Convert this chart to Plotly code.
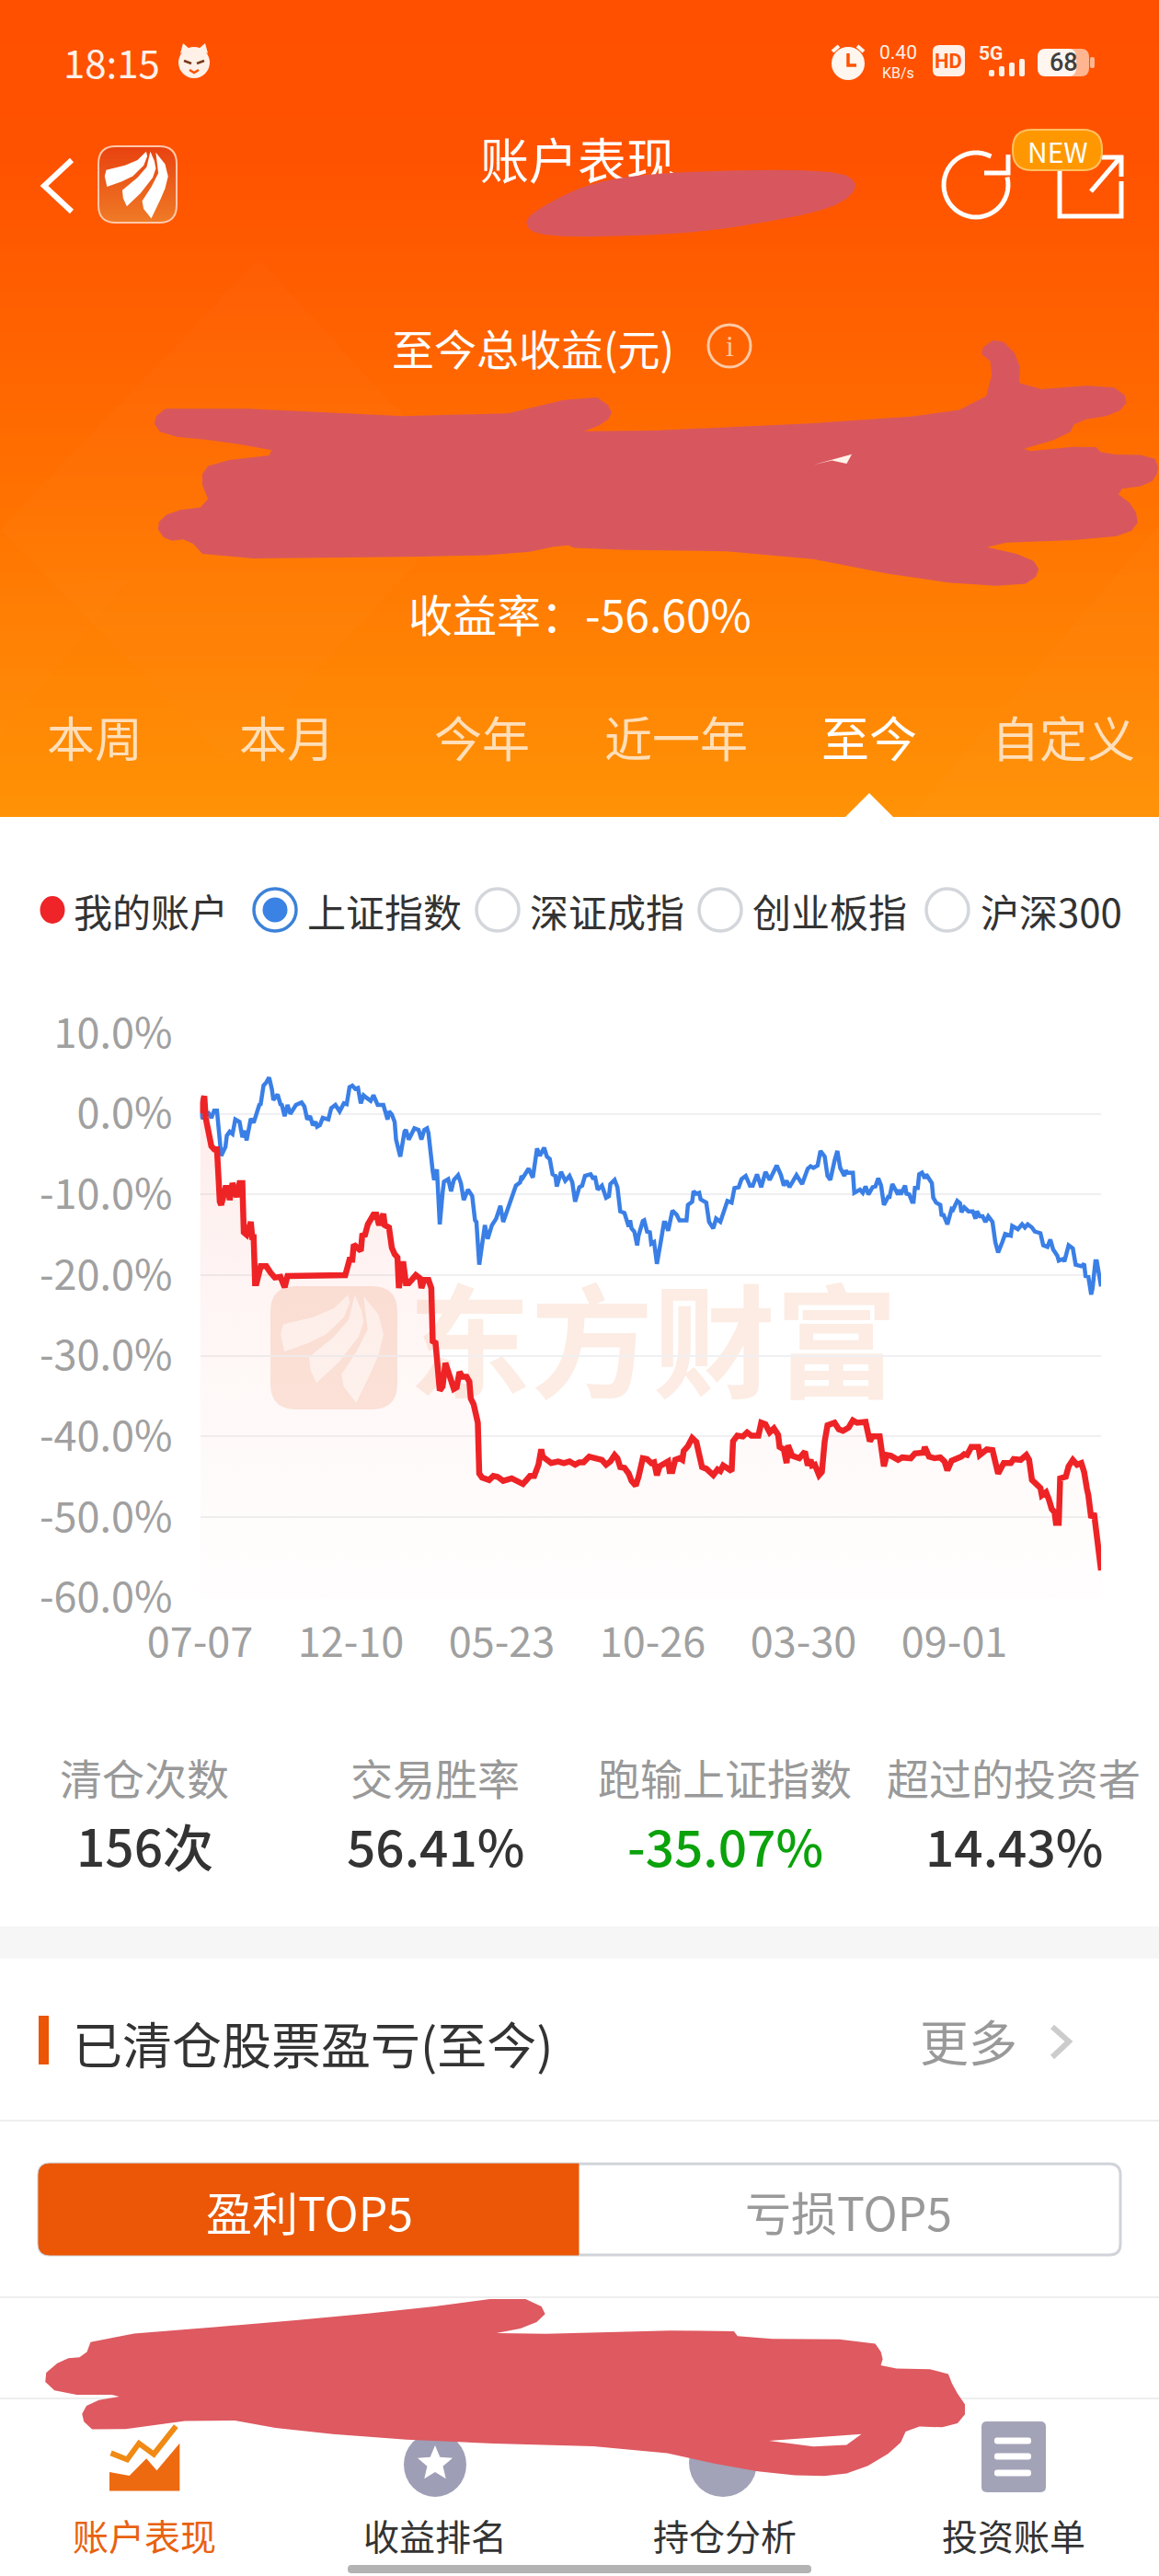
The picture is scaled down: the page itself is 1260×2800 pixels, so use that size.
import math
import plotly.graph_objects as go

# ---------- chart data (trading-day index, % return) ----------
tick_labels = ["07-07", "12-10", "05-23", "10-26", "03-30", "09-01"]
tick_days = [0, 107, 214, 321, 428, 535]
y_ticks = [10, 0, -10, -20, -30, -40, -50, -60]
y_labels = ["10.0%", "0.0%", "-10.0%", "-20.0%", "-30.0%", "-40.0%", "-50.0%", "-60.0%"]

blue_days = [0,2,4,6,8,10,12,15,18,19,21,23,25,28,30,32,33,36,38,40,42,43,45,47,49,51,52,55,57,58,60,62,64,68,72,74,76,78,80,82,83,85,87,91,93,96,99,102,104,106,108,110,112,114,116,118,121,123,126,130,133,134,136,138,139,142,145,146,148,152,155,157,159,161,162,165,166,168,170,172,173,176,178,180,183,185,187,190,193,195,196,198,200,202,204,207,210,213,215,218,221,222,224,227,228,229,232,233,236,239,241,244,246,248,250,252,253,256,259,262,264,266,269,271,273,277,279,280,282,285,288,290,291,294,296,298,301,304,305,306,308,310,311,314,315,317,319,320,322,324,327,329,330,332,335,338,340,345,346,349,350,352,354,355,359,361,364,366,369,371,374,377,379,382,384,387,390,392,395,398,401,404,408,409,412,414,416,418,423,427,431,433,435,438,440,443,445,447,450,452,454,457,458,459,463,464,468,470,472,474,477,479,481,483,485,488,489,491,495,496,497,500,501,503,505,506,507,509,510,512,514,515,519,520,522,525,526,527,530,533,534,537,539,540,542,545,548,550,551,553,555,557,559,562,564,566,569,571,575,576,580,583,585,587,590,592,596,598,601,603,605,608,609,612,613,616,619,621,625,627,628,630,632,633,635,636,639]
blue_vals = [0.1,-0.6,0.0,0.1,-0.5,0.4,0.4,-5.2,-4.1,-2.7,-2.2,-2.5,-0.7,-1.0,-2.9,-2.1,-3.3,-0.6,-1.1,0.1,1.1,1.2,3.5,3.9,4.5,3.0,1.7,2.4,1.2,1.1,-0.3,1.1,0.0,1.1,1.4,0.9,-0.7,-0.3,-1.4,-1.0,-1.6,-1.4,-0.5,-0.7,0.7,1.1,0.3,1.3,1.2,3.3,3.5,3.1,3.2,1.3,2.3,2.0,1.6,2.3,1.1,1.1,-0.7,0.3,-0.1,-1.0,-3.2,-5.3,-2.2,-2.0,-3.2,-1.8,-2.0,-3.2,-2.0,-1.8,-2.4,-7.1,-8.2,-6.9,-13.7,-9.8,-8.4,-8.1,-9.6,-8.2,-7.6,-8.6,-10.7,-9.4,-10.2,-13.2,-13.4,-18.7,-16.4,-13.8,-15.5,-13.8,-13.0,-11.4,-13.4,-11.9,-10.4,-10.2,-8.9,-8.5,-7.7,-7.9,-7.0,-6.8,-7.9,-4.3,-5.2,-4.2,-5.3,-5.6,-7.5,-7.7,-9.0,-7.2,-8.3,-7.7,-8.5,-10.9,-9.1,-8.9,-7.7,-7.5,-8.1,-7.7,-9.4,-8.9,-10.4,-10.2,-8.7,-8.2,-9.1,-12.1,-12.3,-14.0,-13.2,-14.2,-14.6,-16.3,-15.1,-13.3,-13.2,-14.6,-14.7,-16.1,-15.9,-18.6,-15.6,-13.5,-13.5,-14.5,-12.0,-12.5,-13.2,-13.2,-11.3,-10.9,-9.6,-9.9,-9.8,-10.6,-11.0,-13.4,-14.2,-13.0,-13.4,-12.3,-10.8,-11.0,-9.2,-9.1,-8.1,-7.7,-8.9,-8.9,-7.5,-9.1,-7.2,-8.2,-6.5,-6.4,-7.6,-8.9,-8.3,-9.1,-7.6,-8.7,-6.8,-6.5,-6.7,-6.4,-4.6,-5.3,-7.7,-8.2,-5.8,-4.6,-6.7,-7.7,-7.0,-7.3,-7.3,-9.8,-9.4,-9.8,-9.0,-10.0,-9.1,-9.0,-8.0,-8.9,-11.3,-10.3,-10.3,-8.7,-10.0,-9.4,-10.0,-8.9,-9.9,-10.0,-10.9,-10.9,-9.2,-9.2,-7.5,-7.3,-8.0,-7.5,-8.6,-10.4,-11.0,-11.3,-12.7,-12.4,-13.7,-11.8,-11.9,-10.8,-11.1,-12.2,-11.6,-12.1,-12.1,-13.0,-12.1,-12.7,-12.7,-13.4,-12.7,-13.4,-15.9,-17.2,-15.9,-14.9,-15.1,-13.9,-14.3,-13.7,-14.1,-13.7,-14.1,-14.6,-14.8,-16.3,-16.5,-15.6,-16.8,-17.6,-18.2,-18.0,-18.3,-16.3,-16.7,-18.7,-18.9,-18.6,-20.1,-20.2,-22.4,-21.6,-18.3,-18.3,-21.4]

red_days = [0,3,4,6,8,10,12,14,15,18,20,21,23,26,28,30,31,33,36,37,38,39,40,43,47,50,53,57,60,62,96,100,103,106,108,109,114,115,117,119,123,125,127,130,131,134,136,138,140,141,144,146,148,153,156,157,159,162,164,165,167,170,172,174,177,180,182,184,186,189,191,192,194,196,197,198,200,205,208,211,215,221,226,229,232,234,237,240,242,243,246,249,254,258,262,266,269,272,276,280,285,288,291,294,296,298,301,304,306,309,311,314,317,320,322,324,326,329,332,333,335,337,340,342,343,346,349,352,354,356,359,364,367,369,371,375,377,378,381,385,388,391,396,398,401,404,407,410,411,414,416,417,420,425,429,431,433,434,436,439,441,443,445,450,453,456,460,463,466,472,475,477,482,485,487,490,495,498,504,507,513,514,517,521,525,528,530,533,537,540,542,544,547,552,553,556,558,562,564,566,570,575,577,582,586,588,590,593,596,597,600,602,604,606,607,609,610,614,616,619,622,625,627,629,630,632,634,639]
red_vals = [0.1,2.2,-0.5,-2.0,-4.0,-4.4,-4.4,-10.9,-11.3,-9.2,-9.2,-10.7,-8.6,-10.3,-8.6,-8.6,-14.7,-15.0,-13.4,-15.3,-15.3,-21.0,-21.0,-18.9,-18.9,-19.7,-20.3,-20.2,-21.5,-20.1,-20.1,-20.0,-20.0,-18.1,-18.1,-16.2,-17.0,-15.1,-15.0,-13.7,-12.5,-12.5,-13.8,-12.4,-13.8,-14.1,-16.6,-17.4,-17.8,-21.6,-18.3,-21.0,-21.0,-20.0,-20.4,-21.6,-20.6,-20.6,-21.6,-28.2,-28.4,-34.3,-33.8,-30.9,-32.8,-34.1,-33.9,-32.0,-32.6,-32.6,-33.2,-35.3,-36.0,-38.3,-38.3,-44.6,-45.1,-45.4,-44.9,-45.0,-45.5,-45.2,-45.7,-45.9,-45.3,-44.9,-44.9,-43.5,-41.6,-42.5,-42.9,-43.3,-43.1,-43.3,-43.1,-43.5,-43.2,-43.2,-42.5,-42.7,-42.9,-43.5,-43.1,-42.3,-42.7,-43.8,-43.9,-44.6,-45.5,-46.1,-45.0,-42.7,-42.8,-43.3,-43.2,-44.8,-43.7,-43.4,-43.1,-44.3,-44.3,-42.9,-42.7,-42.9,-41.8,-41.2,-40.2,-40.7,-42.5,-43.8,-44.0,-44.8,-44.1,-44.3,-43.6,-44.2,-44.3,-40.6,-39.9,-40.0,-39.5,-39.9,-39.9,-38.3,-38.5,-39.5,-39.0,-39.8,-41.3,-41.6,-43.3,-41.1,-42.4,-42.7,-41.9,-43.6,-42.9,-43.6,-43.5,-44.8,-44.4,-40.6,-38.6,-38.3,-39.1,-39.3,-38.9,-38.0,-38.3,-38.2,-40.6,-40.0,-40.0,-43.7,-42.3,-42.4,-42.9,-42.6,-42.7,-42.1,-42.0,-41.3,-42.5,-42.7,-42.6,-43.1,-44.2,-43.0,-42.8,-42.5,-42.2,-42.3,-41.3,-41.3,-42.3,-42.0,-41.6,-41.7,-43.6,-44.6,-43.3,-43.3,-42.8,-42.9,-42.3,-42.9,-45.4,-45.9,-46.4,-47.3,-46.9,-47.8,-49.0,-49.4,-50.7,-50.7,-45.2,-45.0,-43.7,-42.9,-43.5,-43.3,-44.4,-46.5,-47.3,-50.1,-49.5,-56.6]

FONT = "Noto Sans CJK SC"
PAGE_W, PAGE_H = 1260, 2800
shapes, notes = [], []

def X(x): return x / PAGE_W
def Y(y): return 1 - y / PAGE_H
def P(x, y): return f"{X(x):.5f},{Y(y):.5f}"

def rect(x0, y0, x1, y1, fill, line=None, lw=0):
    shapes.append(dict(type="rect", xref="paper", yref="paper", x0=X(x0), x1=X(x1), y0=Y(y1), y1=Y(y0),
                       fillcolor=fill, line=dict(color=line or "rgba(0,0,0,0)", width=lw), layer="below"))

def circle(cx, cy, r, fill="rgba(0,0,0,0)", line=None, lw=0, ry=None):
    ry = ry or r
    shapes.append(dict(type="circle", xref="paper", yref="paper", x0=X(cx-r), x1=X(cx+r), y0=Y(cy+ry), y1=Y(cy-ry),
                       fillcolor=fill, line=dict(color=line or "rgba(0,0,0,0)", width=lw), layer="below"))

def poly(pts, fill="rgba(0,0,0,0)", line=None, lw=0, close=True):
    d = "M" + " L".join(P(x, y) for x, y in pts) + (" Z" if close else "")
    shapes.append(dict(type="path", xref="paper", yref="paper", path=d, fillcolor=fill,
                       line=dict(color=line or "rgba(0,0,0,0)", width=lw), layer="below"))

def rrect(x0, y0, x1, y1, r, fill, line=None, lw=0):
    d = (f"M{P(x0+r,y0)} L{P(x1-r,y0)} Q{P(x1,y0)} {P(x1,y0+r)} L{P(x1,y1-r)} Q{P(x1,y1)} {P(x1-r,y1)} "
         f"L{P(x0+r,y1)} Q{P(x0,y1)} {P(x0,y1-r)} L{P(x0,y0+r)} Q{P(x0,y0)} {P(x0+r,y0)} Z")
    shapes.append(dict(type="path", xref="paper", yref="paper", path=d, fillcolor=fill,
                       line=dict(color=line or "rgba(0,0,0,0)", width=lw), layer="below"))

def text(x, y, s, size, color, weight=400, anchor="center", family=FONT):
    notes.append(dict(xref="paper", yref="paper", x=X(x), y=Y(y), text=s, showarrow=False, xanchor=anchor,
                      yanchor="middle", font=dict(family=family, size=size, color=color, weight=weight)))

def label_below(x0, y0, x1, y1, s, size, color, weight=400):
    # text drawn in the below-layer, so later shapes can cover it
    shapes.append(dict(type="rect", xref="paper", yref="paper", x0=X(x0), x1=X(x1), y0=Y(y1), y1=Y(y0),
                       fillcolor="rgba(0,0,0,0)", line=dict(width=0), layer="below",
                       label=dict(text=s, textposition="middle center",
                                  font=dict(family=FONT, size=size, color=color, weight=weight))))

def smooth(pts, n=2):
    for _ in range(n):
        out = []
        for i, a in enumerate(pts):
            b = pts[(i + 1) % len(pts)]
            out += [(a[0]*.75+b[0]*.25, a[1]*.75+b[1]*.25), (a[0]*.25+b[0]*.75, a[1]*.25+b[1]*.75)]
        pts = out
    return pts

def Z3(x, y): return (x / 1.244, y / 1.742)
def Z4(x, y): return (x / 1.244, 1880 + y / 1.704)

# ---------- page background ----------
rect(0, 0, 1260, 2800, "#FFFFFF")
stops = [(0, (255, 80, 0)), (170, (255, 82, 0)), (500, (255, 110, 0)), (888, (255, 147, 6))]
band = 8
for y in range(0, 888, band):
    for (a, ca), (b, cb) in zip(stops, stops[1:]):
        if a <= y <= b:
            t = (y - a) / (b - a)
            c = tuple(round(ca[i] + (cb[i] - ca[i]) * t) for i in range(3))
            break
    rect(0, y, 1260, min(y + band + 1, 888), f"rgb{c}")
# faint diagonal facets in the header
poly([(281, 281), (520, 540), (250, 830), (0, 575)], "rgba(255,255,255,0.014)")
poly([(0, 640), (140, 630), (0, 800)], "rgba(255,255,255,0.012)")
poly([(1260, 570), (1260, 888), (990, 888)], "rgba(255,255,255,0.014)")

# blades of the app logo, relative to its box
BLADES = [
    [(.10,.31),(.34,.25),(.50,.18),(.61,.07),(.625,.13),(.58,.25),(.44,.39),(.30,.46),(.11,.53),(.08,.39)],
    [(.305,.575),(.50,.41),(.617,.27),(.664,.07),(.715,.19),(.734,.29),(.695,.41),(.539,.615),(.363,.785),(.316,.68)],
    [(.559,.717),(.676,.534),(.766,.352),(.734,.081),(.852,.231),(.891,.393),(.852,.555),(.793,.696),(.676,.947),(.578,.818)],
]
def blades(x0, y0, w, h, col):
    for b in BLADES:
        poly([(x0 + u * w, y0 + v * h) for u, v in b], col)

def gradient_icon(x0, y0, w, h, r, top, bottom, edge):
    n = int(h / 2)
    for i in range(n):
        ya, yb = y0 + i * h / n, y0 + (i + 1) * h / n + .6
        ym = (ya + yb) / 2
        dy = max(y0 + r - ym, ym - (y0 + h - r), 0)
        inset = r - math.sqrt(max(r * r - dy * dy, 0))
        f = i / (n - 1)
        col = tuple(round(top[k] + (bottom[k] - top[k]) * f) for k in range(3))
        rect(x0 + inset, ya, x0 + w - inset, min(yb, y0 + h), f"rgb{col}")
    rrect(x0, y0, x0 + w, y0 + h, r, "rgba(0,0,0,0)", edge, 2)

# ---------- status bar ----------
text(121, 67, "18:15", 42, "#FFF1E8")
circle(211, 68, 17, "#FFF1E8")
poly([(196, 58), (199, 47), (207, 54)], "#FFF1E8"); poly([(226, 58), (223, 47), (215, 54)], "#FFF1E8")
poly([(200, 66), (208, 69)], line="#7A3A1A", lw=2.5, close=False); poly([(222, 66), (214, 69)], line="#7A3A1A", lw=2.5, close=False)
poly([(206, 76), (211, 79), (216, 76)], line="#FF5000", lw=2.5, close=False)
circle(922, 69, 18, "#FFF6F0")
poly([(905, 56), (912, 50)], line="#FFF6F0", lw=4, close=False); poly([(939, 56), (932, 50)], line="#FFF6F0", lw=4, close=False)
poly([(922, 58), (922, 71), (931, 71)], line="#FF5200", lw=3.5, close=False)
text(976, 57, "0.40", 21, "#FFF1E8", family="Roboto")
text(976, 79, "KB/s", 16, "#FFF1E8", family="Roboto")
rrect(1014, 49, 1049, 83, 7, "#FFF1E8")
text(1031, 66, "HD", 22, "#FF5500", 700, family="Roboto")
text(1077, 58, "5G", 21, "#FFF1E8", 700, family="Roboto")
for i, (bx, top) in enumerate(zip([1078, 1089, 1100, 1111], [76, 72, 68, 64])):
    rrect(bx - 3, top, bx + 3, 83, 2, "#FFF1E8")
rrect(1128, 53, 1184, 83, 9, "#FFB690")
rrect(1128, 53, 1170, 83, 9, "#FFF6F0")
rrect(1185, 62, 1190, 74, 2, "#FFB690")
text(1156, 68, "68", 27, "#3F3F3F", 500, family="Roboto")

# ---------- nav row ----------
poly([(78, 174), (48, 202), (78, 230)], line="#FFFFFF", lw=6, close=False)
gradient_icon(107, 159, 85, 83, 19, (232, 66, 16), (239, 122, 38), "#FFC8A8")
blades(107, 159, 85, 83, "#FFFFFF")
label_below(500, 140, 756, 220, "账户表现", 53, "#FFFFFF")
arc = [(1061 + 35 * math.cos(math.radians(a)), 201 - 35 * math.sin(math.radians(a))) for a in range(62, 382, 8)]
poly(arc, line="#FFFFFF", lw=5, close=False)
poly([(1070, 188), (1096, 188), (1096, 168)], line="#FFFFFF", lw=5, close=False)
poly([(1190, 171), (1152, 171), (1152, 235), (1219, 235), (1219, 197)], line="#FFFFFF", lw=5, close=False)
poly([(1186, 208), (1218, 171)], line="#FFFFFF", lw=5, close=False)
poly([(1198, 171), (1219, 171), (1219, 192)], line="#FFFFFF", lw=5, close=False)
rrect(1101, 141, 1198, 185, 21, "#FF9800", "#FFC060", 2)
text(1150, 164, "NEW", 30, "#FFFFFF")

# header texts
text(579, 377, "至今总收益(元)", 46, "#FFFFFF")
circle(793, 376, 23, line="#FFC9A5", lw=3)
text(793, 376, "i", 32, "#FFC9A5", family="Liberation Serif")
text(630, 666, "收益率：-56.60%", 48, "#FFFFFF")
for cx, lab, col in zip([103, 312, 524, 735, 945, 1156], ["本周", "本月", "今年", "近一年", "至今", "自定义"],
                        ["rgba(255,255,255,.72)"] * 4 + ["#FFFFFF", "rgba(255,255,255,.72)"]):
    text(cx, 801, lab, 52, col)
poly([(945, 862), (972, 889), (918, 889)], "#FFFFFF")

# redaction scribbles
s1 = [(705,420),(740,385),(800,345),(900,325),(1130,320),(1165,350),(1130,395),(1000,430),(900,445),(730,450)]
poly(smooth([Z3(*p) for p in s1]), "#D8575F")
s2 = [(205,795),(230,767),(650,795),(800,745),(830,775),(820,800),(780,822),(1200,795),(1330,770),(1345,690),(1322,665),(1350,637),(1380,680),(1378,740),(1500,727),(1528,755),(1510,785),(1455,797),(1445,825),(1365,858),(1480,842),(1490,860),(1560,862),(1568,890),(1555,918),(1505,928),(1535,960),(1540,1000),(1500,1020),(1315,1030),(1395,1055),(1408,1085),(1380,1112),(1250,1100),(1050,1045),(780,1040),(765,1030),(700,1050),(530,1055),(280,1058),(255,1020),(225,1025),(210,995),(230,968),(285,958),(270,905),(285,875),(390,858),(300,835),(220,825)]
poly(smooth([Z3(*p) for p in s2], 1), "#D8575F")
poly([Z3(1100, 880), Z3(1152, 860), Z3(1145, 878), Z3(1125, 872)], "#FFF2E8")

# ---------- legend row ----------
circle(57, 989, 13.5, "#EE2428", ry=15)
text(164, 989, "我的账户", 42, "#333333")
circle(299, 989, 23, "#FFFFFF", "#3C82D8", 3.5)
circle(299, 989, 13.5, "#3A82E4")
for cx, tx, lab in [(541, 660, "深证成指"), (783, 902, "创业板指"), (1030, 1143, "沪深300")]:
    circle(cx, 989, 23, "#FFFFFF", "#D3D6DB", 3.5)
    text(tx, 989, lab, 42, "#333333")
text(418, 989, "上证指数", 42, "#333333")

# ---------- watermark under the chart lines ----------
rrect(294, 1398, 432, 1532, 28, "#FBE6DC")
blades(294, 1398, 138, 134, "#FEF7F3")
label_below(445, 1402, 975, 1542, "东方财富", 133, "#FCECE3", 700)

# ---------- stats ----------
for cx, lab, val, col in zip([157, 473, 788, 1102], ["清仓次数", "交易胜率", "跑输上证指数", "超过的投资者"],
                             ["156次", "56.41%", "-35.07%", "14.43%"], ["#333333", "#333333", "#0BA20B", "#333333"]):
    text(cx, 1931, lab, 46, "#999999")
    text(cx, 2005, val, 55, col, 500)
rect(0, 2094, 1260, 2129, "#F6F6F6")

# ---------- section ----------
rect(42, 2191, 53, 2244, "#EB5505")
text(77, 2220, "已清仓股票盈亏(至今)", 54, "#333333", anchor="left")
text(1053, 2218, "更多", 53, "#999999")
poly([(1144, 2203), (1162, 2219), (1144, 2236)], line="#CCCCCC", lw=6, close=False)
rect(0, 2304, 1260, 2306, "#EEEEEE")
rrect(42, 2352, 1218, 2451, 12, "#FFFFFF", "#D0D3D8", 3)
d = f"M{P(54,2352)} L{P(629,2352)} L{P(629,2451)} L{P(54,2451)} Q{P(42,2451)} {P(42,2439)} L{P(42,2364)} Q{P(42,2352)} {P(54,2352)} Z"
shapes.append(dict(type="path", xref="paper", yref="paper", path=d, fillcolor="#EB5706", line=dict(color="#EB5706", width=1), layer="below"))
text(336, 2403, "盈利TOP5", 50, "#FFFFFF")
text(923, 2403, "亏损TOP5", 50, "#999999")
rect(0, 2496, 1260, 2498, "#EEEEEE")

# ---------- bottom tab bar ----------
rect(0, 2606, 1260, 2800, "#FFFFFF")
rect(0, 2606, 1260, 2608, "#EEEEEE")
poly([Z4(*p) for p in [(148,1410),(148,1375),(175,1382),(198,1350),(212,1372),(243,1322),(243,1410)]], "#EE6A10")
poly([Z4(*p) for p in [(150,1340),(172,1352),(188,1322),(208,1342),(238,1290)]], line="#F08A14", lw=6, close=False)
circle(473, 2679, 34, "#9E9EB6", ry=35)
star = []
for k in range(10):
    r = 20 if k % 2 == 0 else 9
    a = math.radians(90 + 36 * k)
    star.append((473 + r * math.cos(a), 2678 - r * math.sin(a)))
poly(star, "#FFFFFF")
circle(786, 2677, 37, "#A2A2B8")
rrect(1067, 2632, 1137, 2709, 6, "#A3A3B8")
for by in [2653, 2670, 2688]:
    rrect(1081, by - 3.5, 1121, by + 3.5, 3, "#FFFFFF")

# bottom scribble (over the tab bar)
s3 = [(55,1200),(85,1165),(115,1162),(125,1125),(350,1100),(550,1075),(700,1048),(743,1075),(720,1105),(655,1122),(990,1110),(1000,1128),(1180,1130),(1195,1160),(1190,1183),(1280,1185),(1290,1220),(1310,1260),(1290,1293),(1228,1290),(1215,1330),(1160,1375),(1100,1385),(1000,1370),(870,1330),(600,1320),(400,1300),(290,1273),(130,1303),(108,1275),(120,1245),(175,1232),(80,1232)]
poly(smooth([Z4(*p) for p in s3], 1), "#DE5960")
poly([Z4(*p) for p in [(1040,1317),(1165,1305),(1145,1325),(1100,1328)]], "#FFFFFF")
for cx, lab, col in zip([157, 473, 788, 1102], ["账户表现", "收益排名", "持仓分析", "投资账单"],
                        ["#E8620F", "#333333", "#333333", "#333333"]):
    text(cx, 2755, lab, 39, col)
rrect(378, 2788, 882, 2797, 4, "#B3B3B3")

# ---------- figure ----------
fig = go.Figure()
fig.add_trace(go.Scatter(x=blue_days, y=blue_vals, mode="lines", name="上证指数",
                         line=dict(color="#3A7FE6", width=4.5), hoverinfo="skip"))
fig.add_trace(go.Scatter(x=[0, 639], y=[-60, -60], mode="lines", line=dict(width=0), hoverinfo="skip", showlegend=False))
fig.add_trace(go.Scatter(x=red_days, y=red_vals, mode="lines", name="我的账户", fill="tonexty",
                         fillgradient=dict(type="vertical", start=2.5, stop=-60,
                                           colorscale=[[0, "rgba(240,60,50,0.10)"], [0.55, "rgba(240,80,60,0.04)"], [1, "rgba(240,80,80,0.01)"]]),
                         line=dict(color="#EE2326", width=6.5), hoverinfo="skip"))

fig.update_layout(
    template="none",
    width=PAGE_W, height=PAGE_H, margin=dict(l=0, r=0, t=0, b=0, pad=0, autoexpand=False), showlegend=False,
    paper_bgcolor="#FFFFFF", plot_bgcolor="rgba(0,0,0,0)", shapes=shapes, annotations=notes,
    xaxis=dict(domain=[217.5 / PAGE_W, 1197 / PAGE_W], range=[0, 639], tickvals=tick_days, ticktext=tick_labels,
               automargin=False, showgrid=False, zeroline=False, showline=False, ticks="outside", ticklen=9, tickcolor="rgba(0,0,0,0)",
               tickfont=dict(family=FONT, size=45, color="#A0A0A0"), fixedrange=True),
    yaxis=dict(domain=[1 - 1736.7 / PAGE_H, 1 - 1123 / PAGE_H], range=[-60, 10], tickvals=y_ticks, ticktext=y_labels,
               automargin=False, showgrid=True, gridcolor="#F0F0F2", gridwidth=2, zeroline=False, showline=False,
               ticks="outside", ticklen=20, tickcolor="rgba(0,0,0,0)",
               tickfont=dict(family=FONT, size=45, color="#A0A0A0"), fixedrange=True),
)
fig.write_html("out.html", config=dict(displayModeBar=False),
               post_script="document.body.style.margin='0';document.body.style.background='#fff';")
